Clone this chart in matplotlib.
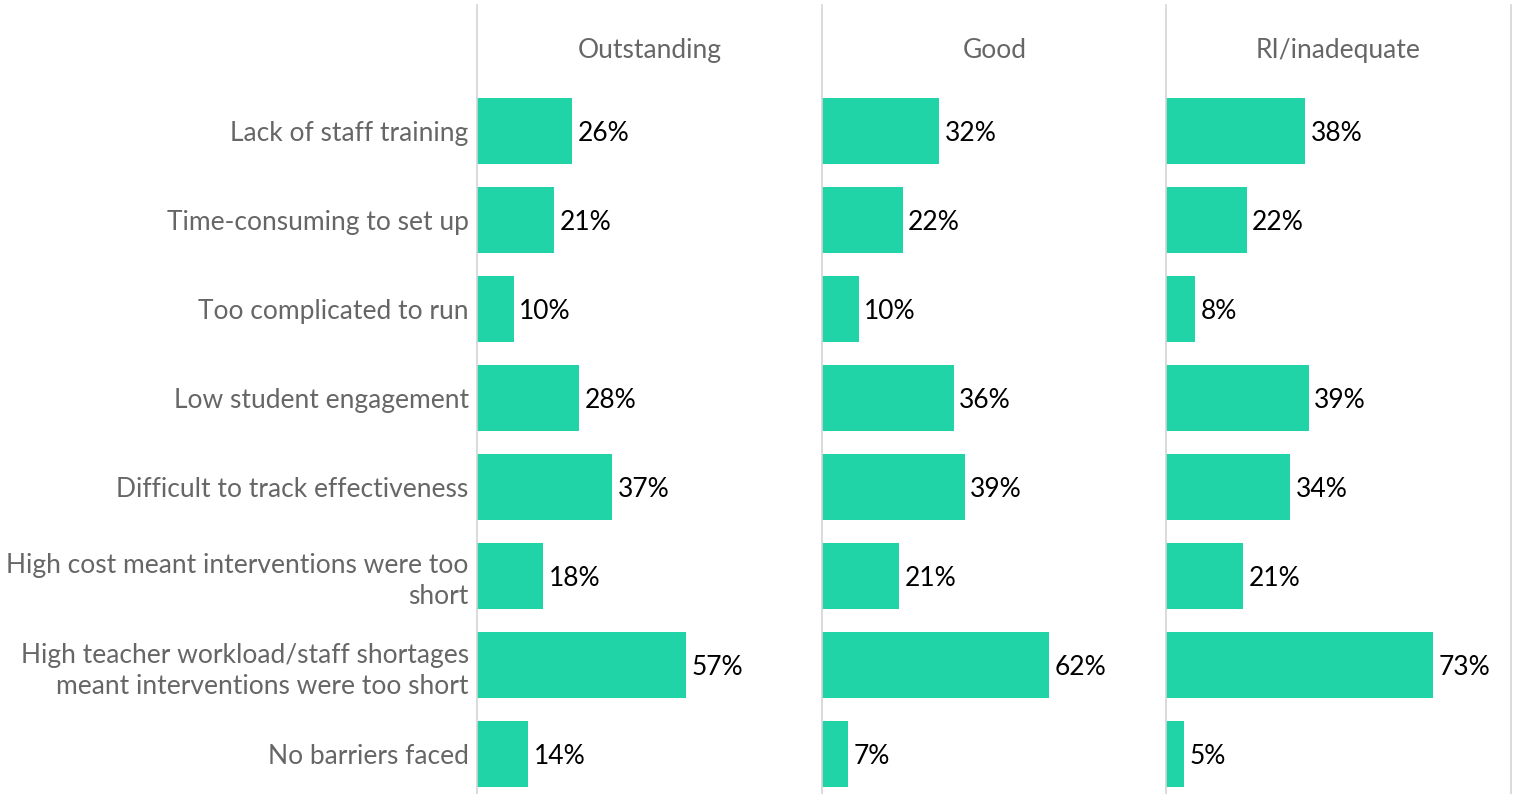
import matplotlib
matplotlib.use("Agg")
import matplotlib.pyplot as plt

categories = [
    "Lack of staff training",
    "Time-consuming to set up",
    "Too complicated to run",
    "Low student engagement",
    "Difficult to track effectiveness",
    "High cost meant interventions were too\nshort",
    "High teacher workload/staff shortages\nmeant interventions were too short",
    "No barriers faced",
]
groups = ["Outstanding", "Good", "RI/inadequate"]
outstanding = [26, 21, 10, 28, 37, 18, 57, 14]
good = [32, 22, 10, 36, 39, 21, 62, 7]
ri_inadequate = [38, 22, 8, 39, 34, 21, 73, 5]
series = [outstanding, good, ri_inadequate]

plt.rcParams['font.family'] = ['Lato', 'DejaVu Sans']
W, H = 1513, 794
fig = plt.figure(figsize=(W / 100, H / 100), dpi=100)

bar_color = "#21D4A8"
label_color = "#666666"
line_color = "#d4d4d4"
fs = 19

panel_left = [477, 822, 1166]
panel_w = 345
top_px, bot_px = 5, 794
row_px = 89
first_center = 131

ytop = 0 - (first_center - top_px) / row_px
ybot = 0 + (bot_px - first_center) / row_px
xmax = panel_w / 3.66

for i, (g, vals) in enumerate(zip(groups, series)):
    ax = fig.add_axes([panel_left[i] / W, 1 - bot_px / H, panel_w / W, (bot_px - top_px) / H])
    ypos = list(range(len(categories)))
    ax.barh(ypos, vals, height=0.75, color=bar_color)
    ax.set_xlim(0, xmax)
    ax.set_ylim(ybot, ytop)
    for y, v in zip(ypos, vals):
        ax.annotate(f"{v}%", (v, y), xytext=(4, 0), textcoords="offset points",
                    va="center_baseline", ha="left", fontsize=fs, color="black")
    ax.text(xmax / 2, -0.93, g, ha="center", va="center_baseline", fontsize=fs, color=label_color)
    ax.set_xticks([])
    if i == 0:
        ax.set_yticks(ypos)
        ax.set_yticklabels(categories, fontsize=fs, color=label_color, linespacing=1.3)
        ax.tick_params(axis="y", length=0, pad=6)
    else:
        ax.set_yticks([])
    for s in ["top", "bottom"]:
        ax.spines[s].set_visible(False)
    ax.spines["left"].set_color(line_color)
    ax.spines["left"].set_linewidth(1.2)
    if i == 2:
        ax.spines["right"].set_color(line_color)
        ax.spines["right"].set_linewidth(1.2)
    else:
        ax.spines["right"].set_visible(False)

fig.savefig("out.png", dpi=100)
